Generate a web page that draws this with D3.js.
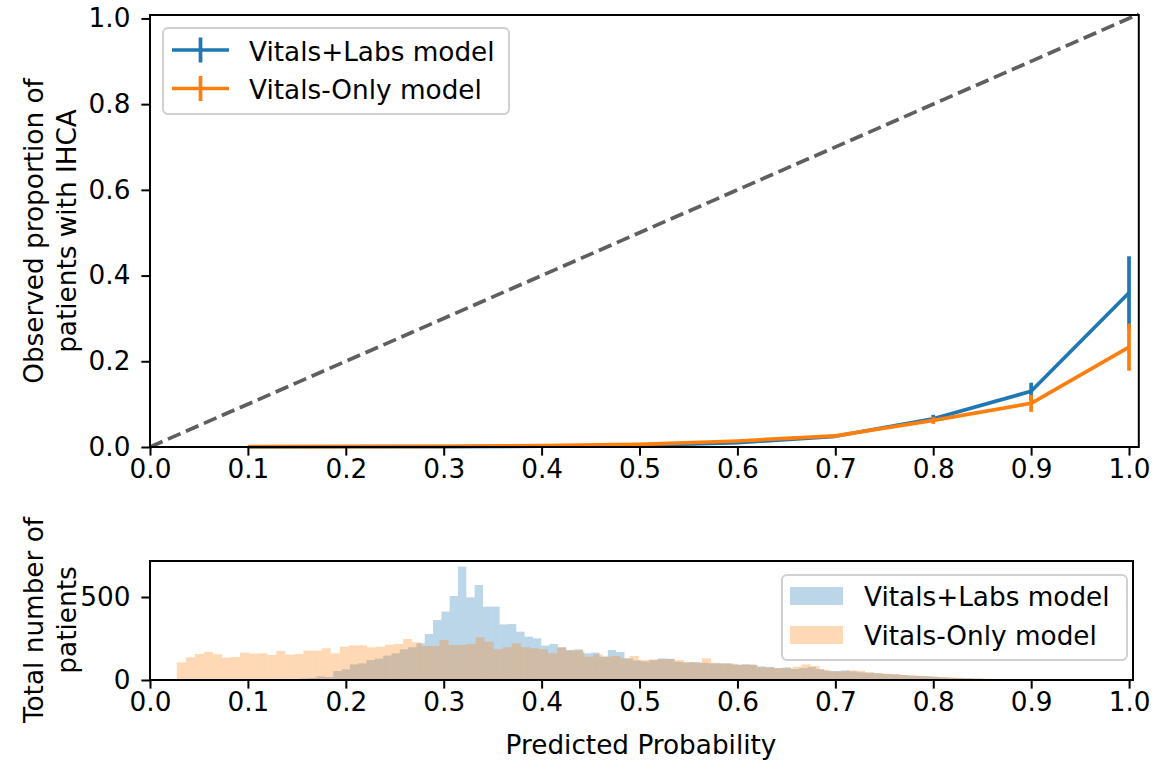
<!DOCTYPE html>
<html>
<head>
<meta charset="utf-8">
<script src="https://cdn.jsdelivr.net/npm/d3@7"></script>
<style>
  body { margin: 0; background: #fff; }
  svg text { font-family: "DejaVu Sans", sans-serif; font-size: 26.3px; fill: #000; }
</style>
</head>
<body>
<svg id="chart" width="1167" height="761"></svg>
<script>
// calibration curve (top panel)
var probBins = [0.1, 0.2, 0.3, 0.4, 0.5, 0.6, 0.7, 0.8, 0.9, 1.0];
var labsObserved = [0.0005, 0.0008, 0.001, 0.002, 0.004, 0.01, 0.025, 0.066, 0.13, 0.36];
var labsErr = [0, 0, 0, 0, 0.001, 0.002, 0.003, 0.009, 0.02, 0.085];
var onlyObserved = [0.0008, 0.001, 0.0015, 0.003, 0.006, 0.014, 0.026, 0.062, 0.102, 0.233];
var onlyErr = [0, 0, 0, 0, 0.001, 0.002, 0.004, 0.008, 0.02, 0.055];
var diagonal = [0, 1.01];

var xTicks = [0, 0.1, 0.2, 0.3, 0.4, 0.5, 0.6, 0.7, 0.8, 0.9, 1.0];
var calibTicks = [0, 0.2, 0.4, 0.6, 0.8, 1.0];
var countTicks = [0, 500];

var seriesNames = ["Vitals+Labs model", "Vitals-Only model"];
var seriesColors = ["#1f77b4", "#ff7f0e"];

// histogram of predicted probabilities (bottom panel), 100 bins each
var labsHistStart = 0.1106, labsHistWidth = 0.0085;
var labsCounts = [1, 0, 1, 3, 6, 9, 12, 22, 18, 54,
  64, 94, 100, 120, 129, 147, 161, 185, 197, 221,
  277, 361, 412, 506, 683, 498, 572, 442, 442, 335,
  337, 291, 261, 251, 207, 217, 197, 181, 185, 161,
  165, 141, 181, 169, 130, 118, 112, 120, 130, 128,
  110, 105, 108, 104, 100, 100, 100, 92, 95, 90,
  82, 78, 72, 76, 66, 72, 78, 66, 56, 54,
  58, 52, 46, 44, 40, 36, 34, 30, 26, 24,
  22, 18, 15, 12, 10, 9, 7, 6, 5, 4,
  3, 2, 2, 1, 1, 0, 0, 1, 0, 1];
var onlyHistStart = 0.0273, onlyHistWidth = 0.00925;
var onlyCounts = [106, 137, 157, 169, 155, 135, 139, 165, 159, 161,
  151, 175, 153, 157, 177, 177, 191, 161, 201, 209,
  209, 197, 201, 213, 217, 247, 227, 205, 205, 241,
  211, 211, 217, 257, 231, 185, 197, 221, 197, 191,
  185, 161, 197, 177, 177, 141, 155, 141, 145, 131,
  145, 120, 124, 124, 126, 120, 108, 104, 130, 104,
  100, 98, 90, 95, 76, 76, 72, 70, 80, 94,
  84, 62, 52, 52, 58, 56, 46, 42, 38, 36,
  30, 28, 24, 22, 18, 16, 14, 12, 10, 8,
  6, 5, 3, 2, 2, 1, 1, 0, 0, 1];

var svg = d3.select("#chart");
svg.append("rect").attr("width", 1167).attr("height", 761).attr("fill", "#fff");

var tickLen = 8.6, lw = 3.7;

// ---------- top panel ----------
var x1 = d3.scaleLinear().domain([0, 1.01]).range([150, 1138.8]);
var y1 = d3.scaleLinear().domain([0, 1.008]).range([447, 15]);

var calibPanel = svg.append("g");

calibPanel.append("path")
    .datum(diagonal)
    .attr("d", d3.line().x(d => x1(d)).y(d => y1(d)))
    .attr("stroke", "#5f5f5f")
    .attr("stroke-width", lw)
    .attr("stroke-dasharray", "13.7,5.9")
    .attr("fill", "none");

var calib = [
  { obs: labsObserved, err: labsErr },
  { obs: onlyObserved, err: onlyErr }
];

calib.forEach((s, k) => {
  var pts = probBins.map((p, i) => ({ p: p, v: s.obs[i], e: s.err[i] }));
  calibPanel.append("path")
      .datum(pts)
      .attr("d", d3.line().x(d => x1(d.p)).y(d => y1(d.v)))
      .attr("stroke", seriesColors[k])
      .attr("stroke-width", lw)
      .attr("stroke-linejoin", "round")
      .attr("fill", "none");
  calibPanel.selectAll(".err" + k)
    .data(pts.filter(d => d.e > 0))
    .enter()
    .append("line")
      .attr("x1", d => x1(d.p))
      .attr("x2", d => x1(d.p))
      .attr("y1", d => y1(d.v - d.e))
      .attr("y2", d => y1(d.v + d.e))
      .attr("stroke", seriesColors[k])
      .attr("stroke-width", lw);
});

function styleAxis(g) {
  g.select(".domain").remove();
  g.selectAll(".tick line").attr("stroke", "#000").attr("stroke-width", 2);
  g.attr("font-size", null).attr("font-family", null);
}

calibPanel.append("g")
    .attr("transform", "translate(0,447)")
    .call(d3.axisBottom(x1).tickValues(xTicks).tickFormat(d3.format(".1f"))
            .tickSize(tickLen).tickPadding(4))
    .call(styleAxis);
calibPanel.append("g")
    .attr("transform", "translate(150,0)")
    .call(d3.axisLeft(y1).tickValues(calibTicks).tickFormat(d3.format(".1f"))
            .tickSize(tickLen).tickPadding(11))
    .call(styleAxis);

calibPanel.append("rect")
    .attr("x", 150).attr("y", 15)
    .attr("width", 1138.8 - 150).attr("height", 447 - 15)
    .attr("fill", "none").attr("stroke", "#000").attr("stroke-width", 2);

// top legend
var leg1 = calibPanel.append("g");
leg1.append("rect")
    .attr("x", 163).attr("y", 28).attr("width", 346).attr("height", 86).attr("rx", 5)
    .attr("fill", "#fff").attr("fill-opacity", 0.8)
    .attr("stroke", "#d0d0d0").attr("stroke-width", 2);
seriesNames.forEach((name, k) => {
  var cy = 50 + k * 38.5;
  leg1.append("line")
      .attr("x1", 172).attr("x2", 229).attr("y1", cy).attr("y2", cy)
      .attr("stroke", seriesColors[k]).attr("stroke-width", lw);
  leg1.append("line")
      .attr("x1", 200.5).attr("x2", 200.5).attr("y1", cy - 12.5).attr("y2", cy + 12.5)
      .attr("stroke", seriesColors[k]).attr("stroke-width", lw);
  leg1.append("text")
      .attr("x", 249).attr("y", cy + 10.5)
      .text(name);
});

calibPanel.append("text")
    .attr("transform", "translate(43,231) rotate(-90)")
    .style("text-anchor", "middle")
    .text("Observed proportion of");
calibPanel.append("text")
    .attr("transform", "translate(76,231) rotate(-90)")
    .style("text-anchor", "middle")
    .text("patients with IHCA");

// ---------- bottom panel ----------
var x2 = d3.scaleLinear().domain([0, 1.004]).range([150, 1133]);
var y2 = d3.scaleLinear().domain([0, 717]).range([680, 561]);

var histPanel = svg.append("g");

var hists = [
  { start: labsHistStart, width: labsHistWidth, counts: labsCounts },
  { start: onlyHistStart, width: onlyHistWidth, counts: onlyCounts }
];

hists.forEach((h, k) => {
  var bins = h.counts.map((c, i) => ({ x0: h.start + i * h.width, x1: h.start + (i + 1) * h.width, c: c }));
  histPanel.selectAll(".bar" + k)
    .data(bins.filter(d => d.c > 0))
    .enter()
    .append("rect")
      .attr("x", d => x2(d.x0))
      .attr("width", d => x2(d.x1) - x2(d.x0))
      .attr("y", d => y2(d.c))
      .attr("height", d => y2(0) - y2(d.c))
      .attr("fill", seriesColors[k])
      .attr("fill-opacity", 0.3);
});

histPanel.append("g")
    .attr("transform", "translate(0,680)")
    .call(d3.axisBottom(x2).tickValues(xTicks).tickFormat(d3.format(".1f"))
            .tickSize(tickLen).tickPadding(4))
    .call(styleAxis);
histPanel.append("g")
    .attr("transform", "translate(150,0)")
    .call(d3.axisLeft(y2).tickValues(countTicks).tickFormat(d3.format("d"))
            .tickSize(tickLen).tickPadding(11))
    .call(styleAxis);

histPanel.append("rect")
    .attr("x", 150).attr("y", 561)
    .attr("width", 1133 - 150).attr("height", 680 - 561)
    .attr("fill", "none").attr("stroke", "#000").attr("stroke-width", 2);

// bottom legend
var leg2 = histPanel.append("g");
leg2.append("rect")
    .attr("x", 782).attr("y", 575).attr("width", 345).attr("height", 85).attr("rx", 5)
    .attr("fill", "#fff").attr("fill-opacity", 0.8)
    .attr("stroke", "#d0d0d0").attr("stroke-width", 2);
seriesNames.forEach((name, k) => {
  var ty = 587 + k * 39;
  leg2.append("rect")
      .attr("x", 790).attr("y", ty).attr("width", 53).attr("height", 18)
      .attr("fill", seriesColors[k]).attr("fill-opacity", 0.3);
  leg2.append("text")
      .attr("x", 864).attr("y", ty + 18.5)
      .text(name);
});

histPanel.append("text")
    .attr("transform", "translate(43,620) rotate(-90)")
    .style("text-anchor", "middle")
    .text("Total number of");
histPanel.append("text")
    .attr("transform", "translate(76,620) rotate(-90)")
    .style("text-anchor", "middle")
    .text("patients");

histPanel.append("text")
    .attr("x", 641).attr("y", 754)
    .style("text-anchor", "middle")
    .text("Predicted Probability");
</script>
</body>
</html>
